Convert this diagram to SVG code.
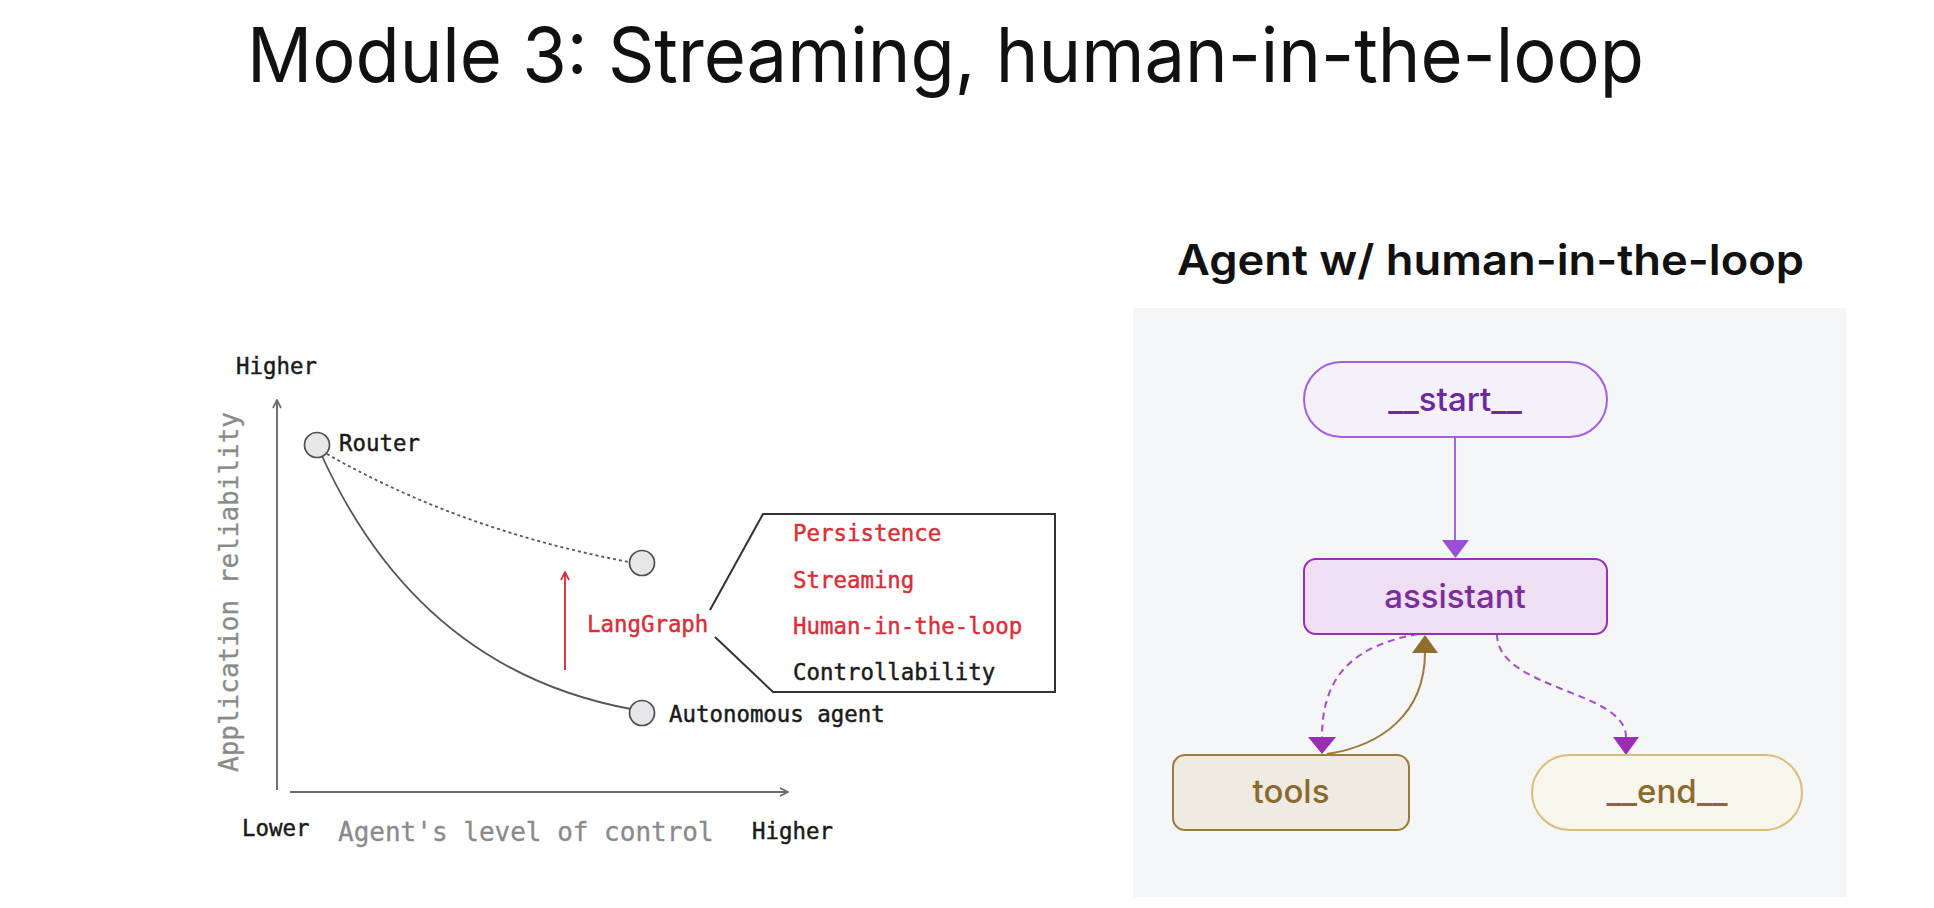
<svg xmlns="http://www.w3.org/2000/svg" width="1934" height="908" viewBox="0 0 1934 908">
  <style>
    .title { font-family: Inter, "Noto Sans", "Liberation Sans", sans-serif; fill: #111; }
    .mono { font-family: "DejaVu Sans Mono", "Liberation Mono", monospace; font-size: 22.4px; fill: #1a1a1a; stroke: #1a1a1a; stroke-width: 0.45; }
    .mono-gray { font-family: "DejaVu Sans Mono", "Liberation Mono", monospace; font-size: 26px; fill: #8a8a8a; stroke: #8a8a8a; stroke-width: 0.3; }
    .red { fill: #d6303a; stroke: #d6303a; }
    .axis { stroke: #6a6a6a; stroke-width: 1.9; fill: none; }
    .dot { fill: #e6e7ea; stroke: #4f4f4f; stroke-width: 1.7; }
    .curve { stroke: #555; stroke-width: 1.8; fill: none; }
    .lbl { font-family: Inter, "Noto Sans", "Liberation Sans", sans-serif; font-size: 33px; font-weight: 500; text-anchor: middle; }
    .dashed { stroke: #a54cc9; stroke-width: 2; fill: none; stroke-dasharray: 7 5; }
  </style>
  <defs>
    <marker id="axisHead" viewBox="0 0 10 10" refX="9" refY="5" markerWidth="10" markerHeight="10" markerUnits="userSpaceOnUse" orient="auto">
      <path d="M1,1 L9,5 L1,9" fill="none" stroke="#6a6a6a" stroke-width="1.7"/>
    </marker>
    <marker id="redHead" viewBox="0 0 10 10" refX="9" refY="5" markerWidth="10" markerHeight="10" markerUnits="userSpaceOnUse" orient="auto">
      <path d="M1,1 L9,5 L1,9" fill="none" stroke="#d6303a" stroke-width="1.7"/>
    </marker>
  </defs>

  <rect width="1934" height="908" fill="#ffffff"/>

  <!-- headings -->
  <text class="title" x="247" y="82" font-size="76" textLength="1397" lengthAdjust="spacingAndGlyphs">Module 3: Streaming, human-in-the-loop</text>
  <text class="title" x="1177" y="275" font-size="42" font-weight="600" textLength="627" lengthAdjust="spacingAndGlyphs">Agent w/ human-in-the-loop</text>

  <!-- reliability vs. control chart -->
  <g id="chart">
    <line class="axis" x1="277" y1="790" x2="277" y2="400" marker-end="url(#axisHead)"/>
    <line class="axis" x1="290" y1="792" x2="788" y2="792" marker-end="url(#axisHead)"/>
    <text class="mono" x="236" y="374">Higher</text>
    <text class="mono" x="242" y="836">Lower</text>
    <text class="mono" x="752" y="839">Higher</text>
    <text class="mono-gray" x="338" y="841">Agent's level of control</text>
    <text class="mono-gray" transform="translate(238,592) rotate(-90)" text-anchor="middle">Application reliability</text>

    <path class="curve" d="M322,456 Q420,670 631,709"/>
    <path class="curve" d="M327,454 Q460,530 629,562" stroke-dasharray="3 3"/>

    <line x1="565" y1="670" x2="565" y2="572" stroke="#d6303a" stroke-width="1.9" marker-end="url(#redHead)"/>
  </g>

  <g id="router">
    <circle class="dot" cx="317" cy="445" r="12.5"/>
    <text class="mono" x="339" y="451">Router</text>
  </g>
  <g id="improved">
    <circle class="dot" cx="642" cy="563" r="12.5"/>
  </g>
  <g id="autonomous">
    <circle class="dot" cx="642" cy="713" r="12.5"/>
    <text class="mono" x="669" y="722">Autonomous agent</text>
  </g>

  <g id="langgraph">
    <text class="mono red" x="587" y="632">LangGraph</text>
    <path d="M710,610 L763,514 L1055,514 L1055,692 L773,692 L715,637" fill="none" stroke="#333" stroke-width="2"/>
    <text class="mono red" x="793" y="541">Persistence</text>
    <text class="mono red" x="793" y="588">Streaming</text>
    <text class="mono red" x="793" y="634">Human-in-the-loop</text>
    <text class="mono" x="793" y="680">Controllability</text>
  </g>

  <!-- agent graph panel -->
  <rect x="1133" y="308" width="713" height="589" fill="#f5f6f8"/>

  <g id="connectors">
    <line x1="1455" y1="437" x2="1455" y2="541" stroke="#a366dd" stroke-width="2"/>
    <path d="M1442,540 L1469,540 L1455.5,558 Z" fill="#9a4fd6"/>

    <path class="dashed" d="M1418,634 C1360,645 1322,670 1322,737"/>
    <path d="M1308,737 L1336,737 L1322,754 Z" fill="#9b2db5"/>

    <path d="M1327,754 C1380,746 1425,715 1425,652" stroke="#9a7b3a" stroke-width="2" fill="none"/>
    <path d="M1412,653 L1438,653 L1425,635 Z" fill="#8f6d2a"/>

    <path class="dashed" d="M1497,634 C1497,690 1626,690 1626,737"/>
    <path d="M1613,737 L1639,737 L1626,755 Z" fill="#9b2db5"/>
  </g>

  <g id="node-start">
    <rect x="1304" y="362" width="303" height="75" rx="37.5" fill="#f6f0fb" stroke="#a35fde" stroke-width="2"/>
    <text class="lbl" x="1455" y="411" fill="#6b2a9c">__start__</text>
  </g>
  <g id="node-assistant">
    <rect x="1304" y="559" width="303" height="75" rx="12" fill="#eedff2" stroke="#9a2fb7" stroke-width="2"/>
    <text class="lbl" x="1455" y="608" fill="#7b2d9a">assistant</text>
  </g>
  <g id="node-tools">
    <rect x="1173" y="755" width="236" height="75" rx="12" fill="#efebe3" stroke="#9c7c3a" stroke-width="2"/>
    <text class="lbl" x="1291" y="803" fill="#8a6a2e">tools</text>
  </g>
  <g id="node-end">
    <rect x="1532" y="755" width="270" height="75" rx="37.5" fill="#f7f5ec" stroke="#d6bd78" stroke-width="2"/>
    <text class="lbl" x="1667" y="803" fill="#8a6a2e">__end__</text>
  </g>
</svg>
